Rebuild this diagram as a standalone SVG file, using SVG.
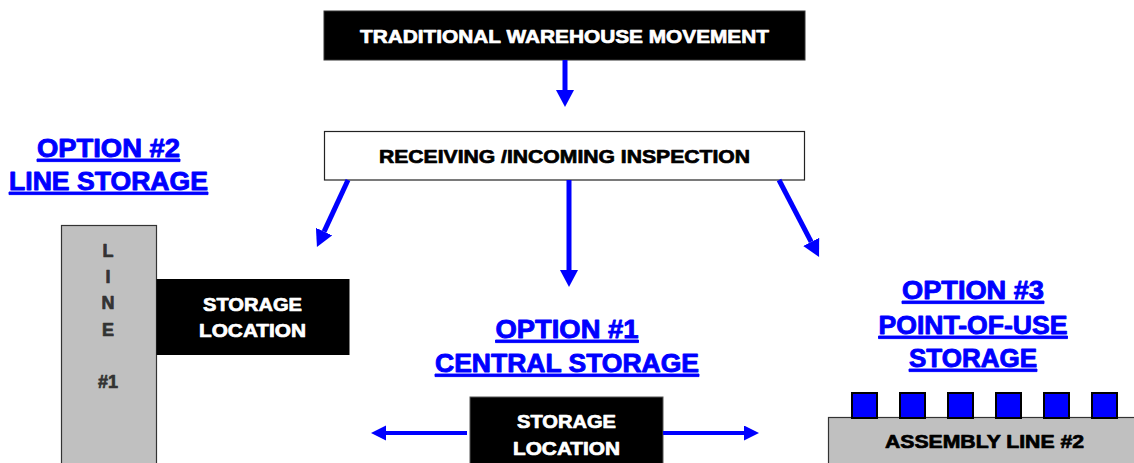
<svg xmlns="http://www.w3.org/2000/svg" width="1134" height="463" viewBox="0 0 1134 463">
<style>
text{font-family:"Liberation Sans",Arial,Helvetica,sans-serif;font-weight:bold;stroke-width:0.7;stroke-linejoin:round}
.w{fill:#fff;stroke:#fff}
.k{fill:#000;stroke:#000}
.opt{fill:#0000ff;stroke:#0000ff;stroke-width:0.9;font-size:26px;text-decoration:underline}
.lc{fill:#333;stroke:#333;font-size:18px}
.blk{fill:#000}
.conn{stroke:#0000ff;stroke-width:5;fill:none}
.conn2{stroke:#0000ff;stroke-width:4;fill:none}
.sq{fill:#0000ff;stroke:#000;stroke-width:2}
</style>
<defs>
<marker id="ah" markerUnits="userSpaceOnUse" markerWidth="18" markerHeight="18" refX="0" refY="9" orient="auto">
<path d="M0,0 L17,9 L0,18 z" fill="#0000ff"/>
</marker>
<marker id="ah2" markerUnits="userSpaceOnUse" markerWidth="16" markerHeight="16" refX="0" refY="7.5" orient="auto">
<path d="M0,0 L15,7.5 L0,15 z" fill="#0000ff"/>
</marker>
</defs>
<rect width="1134" height="463" fill="#fff"/>

<g id="traditional">
<rect x="324" y="11" width="481" height="49" class="blk" stroke="#333" stroke-width="1"/>
<text x="564.5" y="43" class="w" font-size="19" text-anchor="middle" textLength="409" lengthAdjust="spacingAndGlyphs">TRADITIONAL WAREHOUSE MOVEMENT</text>
</g>

<g id="receiving">
<rect x="324.5" y="131.5" width="480" height="48.5" fill="#fff" stroke="#222" stroke-width="1.2"/>
<text x="564.5" y="163" class="k" font-size="18.5" text-anchor="middle" textLength="371" lengthAdjust="spacingAndGlyphs">RECEIVING /INCOMING INSPECTION</text>
</g>

<g id="option2-label">
<text x="108.5" y="157" class="opt" text-anchor="middle" textLength="143" lengthAdjust="spacingAndGlyphs">OPTION #2</text>
<text x="108.5" y="190" class="opt" text-anchor="middle" textLength="199" lengthAdjust="spacingAndGlyphs">LINE STORAGE</text>
</g>

<g id="line1">
<rect x="61.5" y="225.5" width="95" height="250" fill="#c0c0c0" stroke="#333" stroke-width="1.2"/>
<text x="108" y="257" class="lc" text-anchor="middle">L</text>
<text x="108" y="283" class="lc" text-anchor="middle">I</text>
<text x="108" y="309" class="lc" text-anchor="middle">N</text>
<text x="108" y="336" class="lc" text-anchor="middle">E</text>
<text x="108" y="388" class="lc" text-anchor="middle">#1</text>
</g>

<g id="storage-left">
<rect x="156.5" y="279" width="193" height="76" class="blk"/>
<text x="252.5" y="311" class="w" font-size="18" text-anchor="middle" textLength="99" lengthAdjust="spacingAndGlyphs">STORAGE</text>
<text x="252.5" y="337" class="w" font-size="18" text-anchor="middle" textLength="107" lengthAdjust="spacingAndGlyphs">LOCATION</text>
</g>

<g id="option1-label">
<text x="567" y="338" class="opt" text-anchor="middle" textLength="143" lengthAdjust="spacingAndGlyphs">OPTION #1</text>
<text x="567" y="372" class="opt" text-anchor="middle" textLength="264" lengthAdjust="spacingAndGlyphs">CENTRAL STORAGE</text>
</g>

<g id="storage-central">
<rect x="470" y="397" width="193" height="70" class="blk" stroke="#555" stroke-width="1"/>
<text x="566.5" y="428" class="w" font-size="18" text-anchor="middle" textLength="99" lengthAdjust="spacingAndGlyphs">STORAGE</text>
<text x="566.5" y="455" class="w" font-size="18" text-anchor="middle" textLength="107" lengthAdjust="spacingAndGlyphs">LOCATION</text>
</g>

<g id="option3-label">
<text x="973" y="299" class="opt" text-anchor="middle" textLength="142" lengthAdjust="spacingAndGlyphs">OPTION #3</text>
<text x="973" y="334" class="opt" text-anchor="middle" textLength="189" lengthAdjust="spacingAndGlyphs">POINT-OF-USE</text>
<text x="973" y="367" class="opt" text-anchor="middle" textLength="128" lengthAdjust="spacingAndGlyphs">STORAGE</text>
</g>

<g id="assembly-line2">
<rect x="828.5" y="417.5" width="320" height="60" fill="#c0c0c0" stroke="#333" stroke-width="1.2"/>
<rect x="852" y="393" width="25" height="25" class="sq"/>
<rect x="900" y="393" width="25" height="25" class="sq"/>
<rect x="948" y="393" width="25" height="25" class="sq"/>
<rect x="996" y="393" width="25" height="25" class="sq"/>
<rect x="1044" y="393" width="25" height="25" class="sq"/>
<rect x="1092" y="393" width="25" height="25" class="sq"/>
<text x="984.5" y="448" class="k" font-size="17.5" text-anchor="middle" textLength="199" lengthAdjust="spacingAndGlyphs">ASSEMBLY LINE #2</text>
</g>

<g id="connectors">
<line x1="565" y1="60" x2="565" y2="90" class="conn" marker-end="url(#ah)"/>
<line x1="569" y1="180" x2="569" y2="270" class="conn" marker-end="url(#ah)"/>
<line x1="348" y1="180" x2="324.1" y2="231.6" class="conn" marker-end="url(#ah)"/>
<line x1="779" y1="180" x2="811.2" y2="241.9" class="conn" marker-end="url(#ah)"/>
<line x1="467" y1="433" x2="386" y2="433" class="conn2" marker-end="url(#ah2)"/>
<line x1="663" y1="433" x2="744" y2="433" class="conn2" marker-end="url(#ah2)"/>
</g>
</svg>
